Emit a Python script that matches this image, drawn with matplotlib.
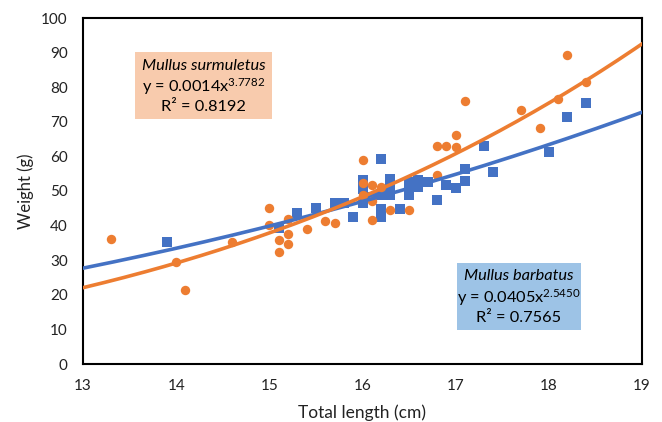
import numpy as np
import matplotlib
matplotlib.use("Agg")
import matplotlib.pyplot as plt
from matplotlib.patches import Rectangle

plt.rcParams['font.family'] = ['Lato', 'DejaVu Sans']
plt.rcParams['mathtext.fontset'] = 'custom'
plt.rcParams['mathtext.rm'] = 'Lato'
plt.rcParams['mathtext.it'] = 'Lato:italic'

# Mullus surmuletus (orange circles)
surm_len = [13.3, 14.0, 14.1, 14.6, 15.0, 15.0, 15.1, 15.1, 15.2, 15.2, 15.2, 15.4,
            15.6, 15.7, 16.0, 16.0, 16.0, 16.1, 16.1, 16.1, 16.2, 16.3, 16.5, 16.8,
            16.8, 16.9, 17.0, 17.0, 17.1, 17.7, 17.9, 18.1, 18.2, 18.4]
surm_wt = [36.1, 29.6, 21.4, 35.3, 45.2, 40.2, 35.8, 32.5, 42.0, 37.7, 34.8, 38.9,
           41.3, 40.8, 59.0, 52.2, 48.8, 51.7, 47.0, 41.7, 51.3, 44.5, 44.5, 54.7,
           63.1, 63.1, 66.3, 62.8, 76.0, 73.4, 68.1, 76.6, 89.3, 81.4]

# Mullus barbatus (blue squares)
barb_len = [13.9, 15.1, 15.3, 15.5, 15.7, 15.8, 15.9, 16.0, 16.0, 16.0, 16.1, 16.2,
            16.2, 16.2, 16.2, 16.3, 16.3, 16.3, 16.4, 16.5, 16.5, 16.5, 16.6, 16.6,
            16.7, 16.8, 16.9, 17.0, 17.1, 17.1, 17.3, 17.4, 18.0, 18.2, 18.4]
barb_wt = [35.4, 39.2, 43.5, 45.0, 46.4, 46.4, 42.5, 53.2, 50.5, 46.4, 48.4, 59.2,
           48.8, 44.7, 42.5, 53.4, 50.8, 48.8, 44.8, 52.7, 50.8, 48.8, 53.2, 51.3,
           52.5, 47.4, 51.7, 50.8, 53.0, 56.3, 63.1, 55.5, 61.4, 71.5, 75.3]

# Power trendlines y = a * x^b (a shown rounded in the label; unrounded a for the curve)
surm_a, surm_a_fit, surm_b, surm_r2 = 0.0014, 0.001364, 3.7782, 0.8192
barb_a, barb_a_fit, barb_b, barb_r2 = 0.0405, 0.0405, 2.5450, 0.7565

x_ticks = [13, 14, 15, 16, 17, 18, 19]
y_ticks = list(range(0, 101, 10))

ORANGE = '#ED7D31'
BLUE = '#4472C4'

W, H = 662, 422
fig = plt.figure(figsize=(W / 100, H / 100), dpi=100)
ax = fig.add_axes([83 / W, (H - 364) / H, (642 - 83) / W, (364 - 18) / H])

xs = np.linspace(13, 19, 300)
ax.plot(xs, barb_a_fit * xs ** barb_b, color=BLUE, lw=2.6, zorder=3)
ax.plot(xs, surm_a_fit * xs ** surm_b, color=ORANGE, lw=2.6, zorder=3)
ax.scatter(barb_len, barb_wt, marker='s', s=42, color=BLUE, zorder=2, linewidths=0)
ax.scatter(surm_len, surm_wt, marker='o', s=46, color=ORANGE, zorder=2, linewidths=0)

ax.set_xlim(13, 19)
ax.set_ylim(0, 100)
ax.set_xticks(x_ticks)
ax.set_yticks(y_ticks)
ax.tick_params(length=0, labelsize=11, colors='#222222')
ax.tick_params(axis='x', pad=11)
ax.tick_params(axis='y', pad=11)
for s in ax.spines.values():
    s.set_linewidth(1.5)
    s.set_color('black')
ax.set_xlabel('Total length (cm)', fontsize=12.5, color='#222222', labelpad=8)
ax.set_ylabel('Weight (g)', fontsize=12, color='#222222', labelpad=5)

def fx(px):
    return px / W

def fy(py):
    return (H - py) / H

# Orange text box
fig.patches.append(Rectangle((fx(135), fy(119)), (272 - 135) / W, (119 - 52) / H,
                             transform=fig.transFigure, facecolor='#F8CBAD',
                             edgecolor='none', zorder=5))
cx = fx(203.5)
fig.text(cx, fy(66), 'Mullus surmuletus', style='italic', ha='center', va='center', fontsize=11.8, zorder=6)
fig.text(cx, fy(87), r'y = %.4fx$^{%.4f}$' % (surm_a, surm_b), ha='center', va='center', fontsize=11.8, zorder=6)
fig.text(cx, fy(107), 'R² = %.4f' % surm_r2, ha='center', va='center', fontsize=11.8, zorder=6)

# Blue text box
fig.patches.append(Rectangle((fx(457), fy(330)), (581 - 457) / W, (330 - 263) / H,
                             transform=fig.transFigure, facecolor='#9DC3E6',
                             edgecolor='none', zorder=5))
cx = fx(519)
fig.text(cx, fy(276), 'Mullus barbatus', style='italic', ha='center', va='center', fontsize=11.8, zorder=6)
fig.text(cx, fy(298), r'y = %.4fx$^{%.4f}$' % (barb_a, barb_b), ha='center', va='center', fontsize=11.8, zorder=6)
fig.text(cx, fy(318), 'R² = %.4f' % barb_r2, ha='center', va='center', fontsize=11.8, zorder=6)

fig.savefig('out.png', dpi=100)
